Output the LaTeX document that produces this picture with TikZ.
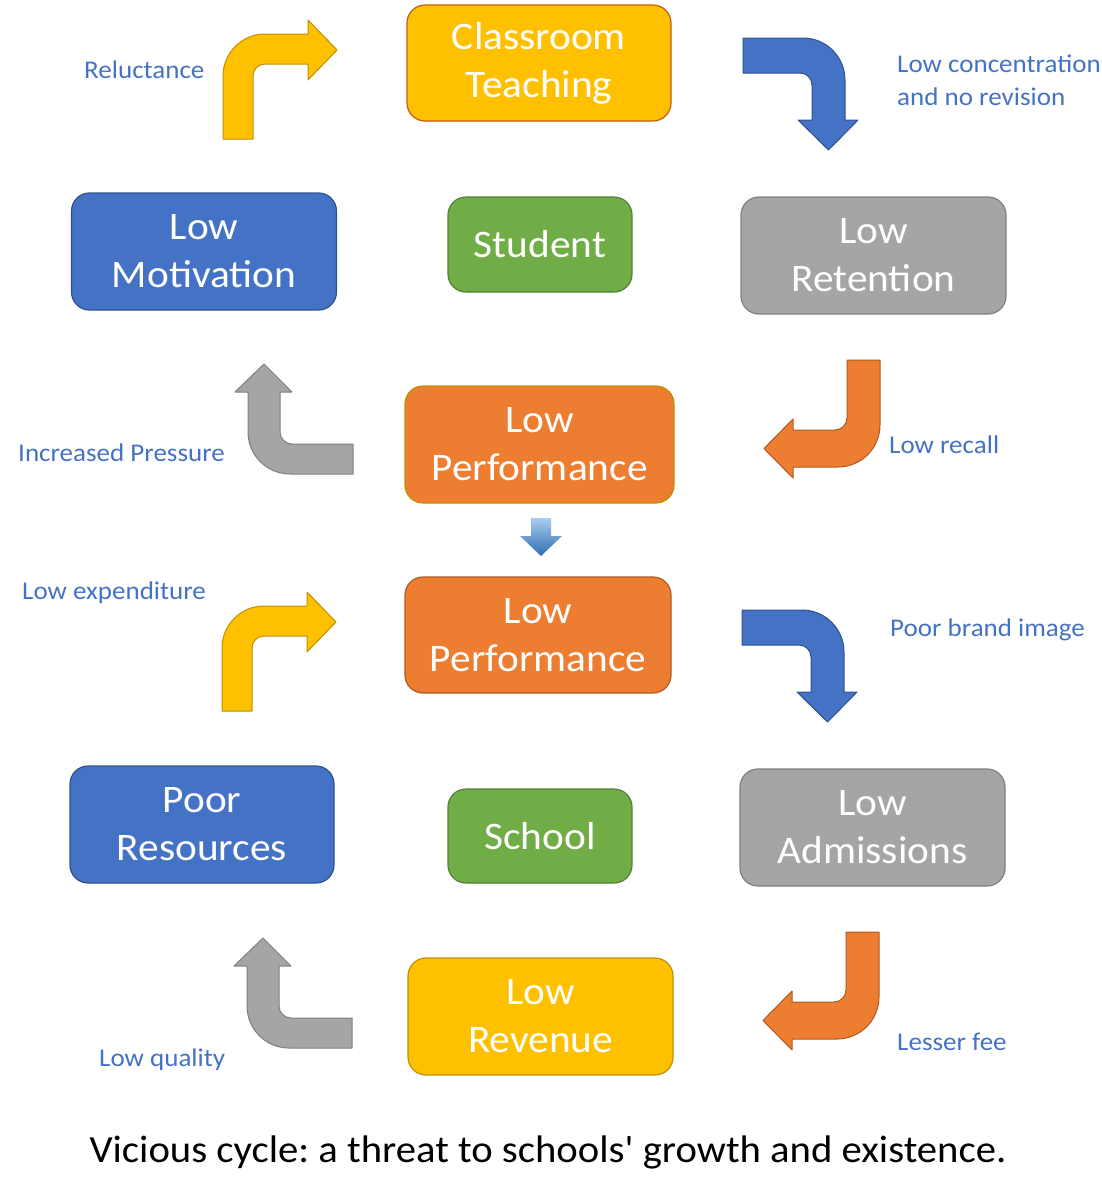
\documentclass[tikz,border=0pt]{standalone}
\usepackage{fontspec}
\setmainfont{Carlito}[FakeStretch=1.06]
% same face without the TeX quote mapping, so the apostrophe stays straight
\newfontfamily\capfont{Carlito}[FakeStretch=1.06]
\frenchspacing
\usetikzlibrary{shapes.misc}
\definecolor{cyellow}{HTML}{FFC000}
\definecolor{cyellowdk}{HTML}{BF9000}
\definecolor{cblue}{HTML}{4472C4}
\definecolor{cbluedk}{HTML}{2F528F}
\definecolor{cgreen}{HTML}{70AD47}
\definecolor{cgreendk}{HTML}{507E32}
\definecolor{cgray}{HTML}{A5A5A5}
\definecolor{cgraydk}{HTML}{7F7F7F}
\definecolor{corange}{HTML}{ED7D31}
\definecolor{corangedk}{HTML}{AE5A21}
\definecolor{cbrown}{HTML}{C55A11}
\definecolor{labelblue}{HTML}{4472C4}
\definecolor{linktop}{HTML}{A9CDEF}
\definecolor{linkbot}{HTML}{2E6DB0}
\tikzset{
  box/.style={rounded corners=18pt, text=white, align=center,
    font=\fontsize{39}{48}\selectfont, line width=1.2pt,
    inner sep=0pt, minimum height=117pt},
  widebox/.style={box, minimum width=265pt},
  smallbox/.style={box, minimum width=184pt, minimum height=95pt},
  lbl/.style={text=labelblue, anchor=west, align=left, inner sep=0pt,
    font=\fontsize{25.5}{33}\selectfont},
  bent/.style={line width=1pt, line join=round},
}
\begin{document}
\begin{tikzpicture}[x=1pt,y=-1pt]
\useasboundingbox (0,0) rectangle (1101,1200);

% ---- student cycle ----
\node[widebox, fill=cyellow, draw=cbrown, minimum width=264pt, minimum height=116pt] (ct) at (539,63) {Classroom\\Teaching};
\node[widebox, fill=cblue, draw=cbluedk] (lm) at (204,251.5) {Low\\Motivation};
\node[smallbox, fill=cgreen, draw=cgreendk] (st) at (540,244.5) {Student};
\node[widebox, fill=cgray, draw=cgraydk] (lr) at (873.5,255.5) {Low\\Retention};
\node[widebox, fill=corange, draw=cyellowdk, minimum width=269pt] (lp1) at (539.5,444.5) {Low\\Performance};

% ---- school cycle ----
\node[widebox, fill=corange, draw=corangedk, minimum width=266pt, minimum height=116pt] (lp2) at (538,635) {Low\\Performance};
\node[widebox, fill=cblue, draw=cbluedk, minimum width=264pt] (pr) at (202,824.5) {Poor\\Resources};
\node[smallbox, fill=cgreen, draw=cgreendk, minimum height=94pt] (sc) at (540,836) {School};
\node[widebox, fill=cgray, draw=cgraydk] (la) at (872.5,827.5) {Low\\Admissions};
\node[widebox, fill=cyellow, draw=cyellowdk] (rev) at (540.5,1016.5) {Low\\Revenue};

% ---- link between the two cycles ----
\shade[top color=linktop, bottom color=linkbot]
  (531,518) -- (551,518) -- (551,536) -- (562,536) -- (541,556) -- (520,536) -- (531,536) -- cycle;

% ---- bent arrows, drawn once per cycle ----
\foreach \dx/\dy in {0/0, -1/572} {
  \begin{scope}[shift={(\dx,\dy)}]
    % up then right
    \draw[bent, fill=cyellow, draw=cyellowdk]
      (223,139) -- (223,76) .. controls (223,52.9) and (241.8,34) .. (265,34)
      -- (308,34) -- (308,20) -- (337,50) -- (308,80) -- (308,64) -- (265,64)
      .. controls (258.4,64) and (253,69.4) .. (253,76) -- (253,139) -- cycle;
    % right then down
    \draw[bent, fill=cblue, draw=cbluedk]
      (743,38) -- (803,38) .. controls (826.2,38) and (845,56.8) .. (845,80)
      -- (845,120) -- (858,120) -- (828.5,150) -- (798,120) -- (812,120) -- (812,85)
      .. controls (812,78.4) and (806.6,73) .. (800,73) -- (743,73) -- cycle;
    % down then left
    \draw[bent, fill=corange, draw=corangedk]
      (847,360) -- (880,360) -- (880,425) .. controls (880,448.2) and (861.2,467) .. (838,467)
      -- (793,467) -- (793,478) -- (764,448.5) -- (793,419) -- (793,430) -- (835,430)
      .. controls (841.6,430) and (847,424.6) .. (847,418) -- cycle;
  \end{scope}
}
\foreach \dx/\dy in {0/0, -1/574} {
  \begin{scope}[shift={(\dx,\dy)}]
    % left then up
    \draw[bent, fill=cgray, draw=cgraydk]
      (264,364) -- (292,392) -- (280,392) -- (280,432)
      .. controls (280,438.6) and (285.4,444) .. (292,444)
      -- (353,444) -- (353,474) -- (290,474)
      .. controls (266.8,474) and (248,455.2) .. (248,432)
      -- (248,392) -- (235,392) -- cycle;
  \end{scope}
}

% ---- labels ----
\node[lbl] (l1) at (84,70) {Reluctance};
\node[lbl] (l2) at (897,80) {Low concentration\\and no revision};
\node[lbl] (l3) at (18,453) {Increased Pressure};
\node[lbl] (l4) at (889,445) {Low recall};
\node[lbl] (l5) at (22,593) {Low expenditure};
\node[lbl] (l6) at (890,630) {Poor brand image};
\node[lbl] (l7) at (99,1060) {Low quality};
\node[lbl] (l8) at (897,1042) {Lesser fee};

% ---- caption ----
\node[font=\capfont\fontsize{38.4}{44}\selectfont, inner sep=0pt] (cap) at (548,1152)
  {Vicious cycle: a threat to schools' growth and existence.};
\end{tikzpicture}
\end{document}
